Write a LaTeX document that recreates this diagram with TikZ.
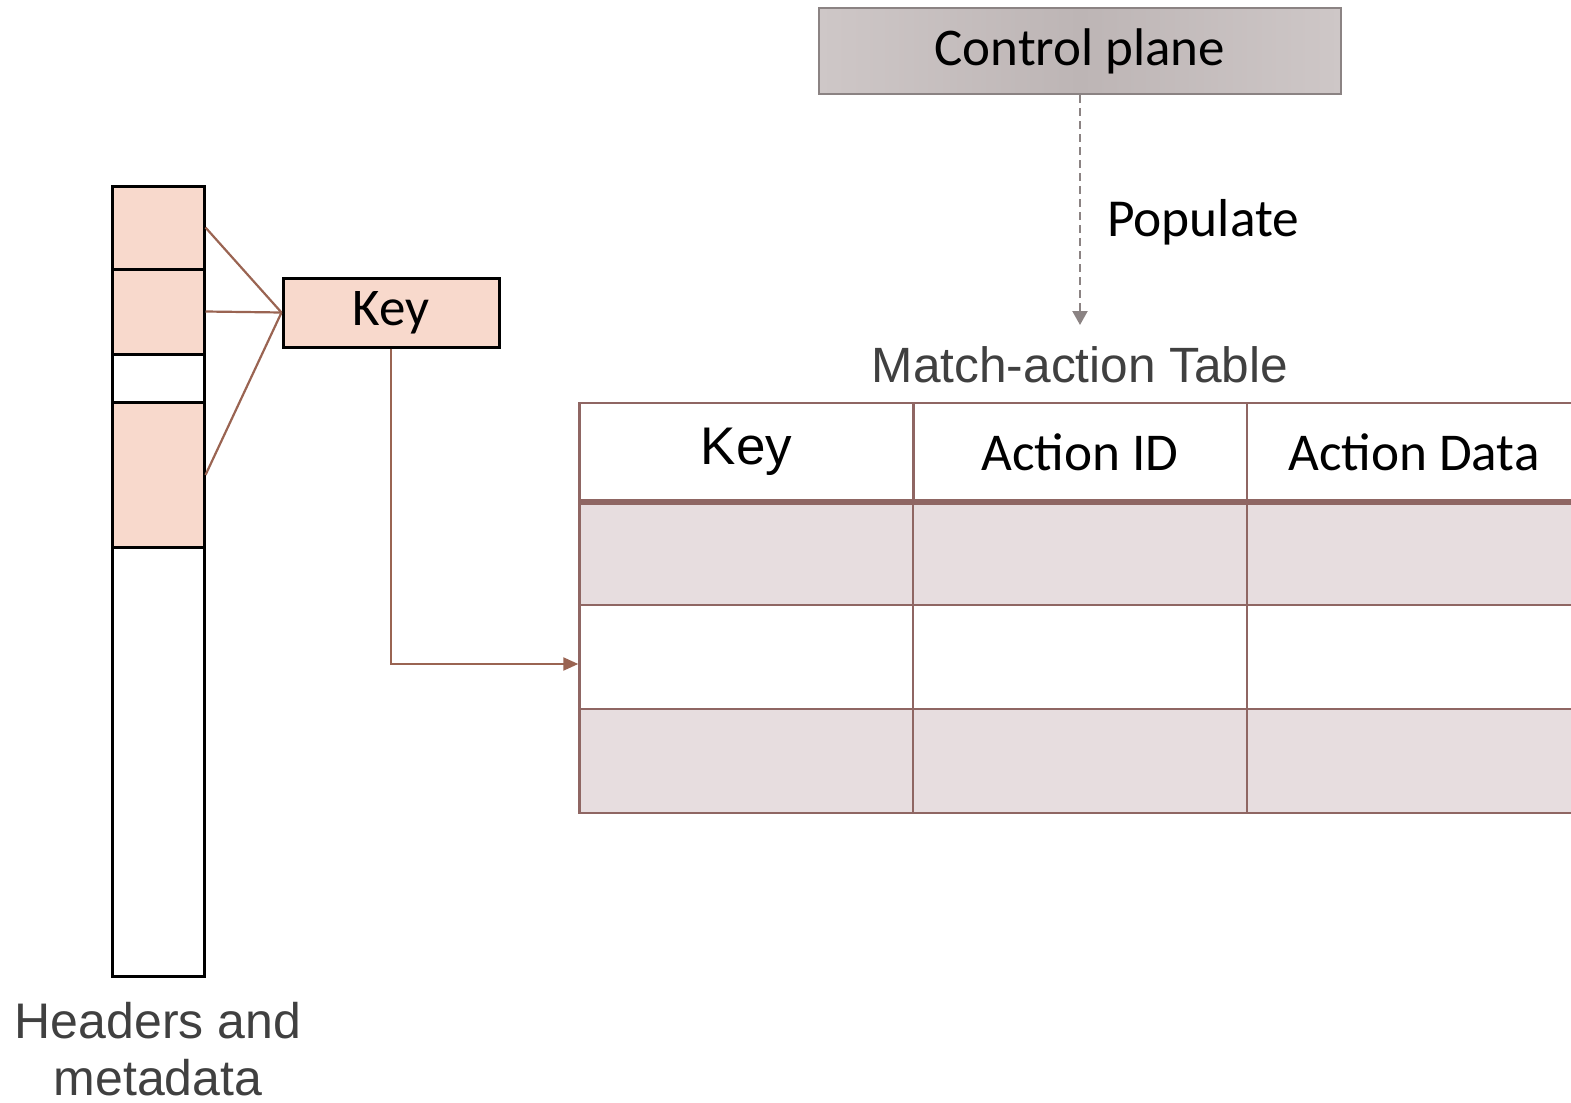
\documentclass[tikz,border=0pt]{standalone}
\usepackage{fontspec}
\setmainfont{Carlito}
\newfontfamily\arialfont{Liberation Sans}
\usetikzlibrary{positioning}
\usetikzlibrary{calc}
\usetikzlibrary{arrows.meta}
\definecolor{field}{HTML}{F8D9CC}
\definecolor{row}{HTML}{E7DDDF}
\definecolor{tline}{HTML}{8F6663}
\definecolor{link}{HTML}{9A6452}
\definecolor{cpedge}{HTML}{CEC7C7}
\definecolor{cpmid}{HTML}{BDB5B5}
\definecolor{cpline}{HTML}{8B8383}
\definecolor{note}{HTML}{404040}

\begin{document}
\begin{tikzpicture}
    [x=0.5pt, y=-0.5pt,
    slot/.style={rectangle, draw=black, line width=1.5pt, minimum width=46pt, inner sep=0pt},
    keybox/.style={rectangle, fill=field, draw=black, line width=1.5pt, minimum width=108pt, minimum height=34.5pt, inner sep=0pt, font=\fontsize{26.5}{30}\selectfont},
    cell/.style={rectangle, draw=tline, line width=1.2pt, minimum width=167pt, minimum height=52pt, inner sep=0pt},
    link/.style={draw=link, line width=1.1pt}]
     \clip (0,0) rectangle (1571,1103);
     %\draw[step=100,gray,very thin] (0,0) grid (1571,1103);
     % control plane
     \node[rectangle, left color=cpedge, right color=cpedge, middle color=cpmid, draw=cpline, line width=1.1pt,
           minimum width=261pt, minimum height=43pt, font=\fontsize{26.5}{30}\selectfont] (cp) at (1080, 51) {Control plane};
     \node[font=\fontsize{26.7}{30}\selectfont, anchor=west] (pop) at (1100, 222) {Populate};
     \node[font=\arialfont\fontsize{24.8}{29}\selectfont, text=note] (title) at (1080, 365) {Match-action Table};
     \coordinate (tin) at (1080, 325);
     \draw[cpline, line width=1.1pt, dash pattern=on 4pt off 2.5pt, -{Triangle[width=7.5pt, length=7pt]}] (cp.south) -- (tin);
     % headers and metadata
     \node[slot, fill=field, minimum height=41.5pt] (h1) at (158, 227.5) {};
     \node[slot, fill=field, minimum height=42.5pt] (h2) at (158, 311.5) {};
     \node[slot, fill=white, minimum height=24pt]   (h3) at (158, 378)   {};
     \node[slot, fill=field, minimum height=73pt]   (h4) at (158, 475)   {};
     \node[slot, fill=white, minimum height=214.5pt] (h5) at (158, 762) {};
     \node[align=center, text=note, font=\arialfont\fontsize{25}{28.5}\selectfont] (hm) at (158, 1049) {Headers and\\metadata};
     % key
     \node[keybox] (key) at (391, 312.5) {Key};
     \draw[link] (h1.east) -- (key.west);
     \draw[link] (h2.east) -- (key.west);
     \draw[link] (h4.east) -- (key.west);
     % table
     \node[cell, minimum height=49pt] (hk) at (746.5, 452) {\arialfont\fontsize{26.5}{30}\selectfont Key};
     \node[cell, minimum height=49pt] (ha) at (1080, 452)  {\fontsize{26.6}{30}\selectfont Action ID};
     \node[cell, minimum height=49pt] (hd) at (1414, 452)  {\fontsize{26.6}{30}\selectfont Action Data};
     \foreach \r/\y/\c in {1/553/row, 2/657/white, 3/761/row} {
       \node[cell, fill=\c] (r\r c1) at (746.5, \y) {};
       \node[cell, fill=\c] (r\r c2) at (1080, \y)  {};
       \node[cell, fill=\c] (r\r c3) at (1414, \y)  {};
     }
     \draw[tline, line width=3pt] (hk.south west) -- (hd.south east);
     \draw[link, -{Triangle[width=6.5pt, length=7.5pt]}] (key.south) |- ([yshift=-3.5pt]r2c1.west);
\end{tikzpicture}
\end{document}
